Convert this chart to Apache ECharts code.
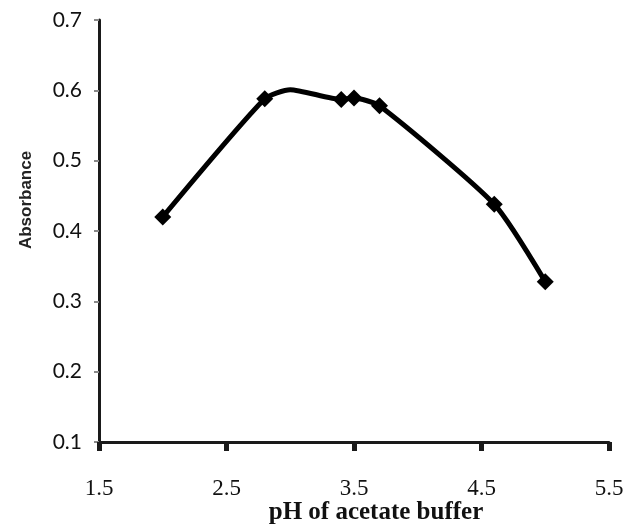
<!DOCTYPE html>
<html>
<head>
<meta charset="utf-8">
<script src="https://cdn.jsdelivr.net/npm/echarts@6/dist/echarts.min.js"></script>
<style>
html,body{margin:0;padding:0;background:#fff;}
#chart{width:630px;height:527px;}
</style>
</head>
<body>
<div id="chart"></div>
<script>
var pH = [2.0, 2.8, 3.0, 3.4, 3.5, 3.7, 4.6, 5.0];
var absorbance = [0.42, 0.588, 0.601, 0.587, 0.589, 0.578, 0.438, 0.328];
var markerShown = [true, true, false, true, true, true, true, true];
var xTicks = [1.5, 2.5, 3.5, 4.5, 5.5];
var yTicks = [0.1, 0.2, 0.3, 0.4, 0.5, 0.6, 0.7];
var xTitle = 'pH of acetate buffer';
var yTitle = 'Absorbance';

var seriesData = pH.map(function (x, i) {
  var d = { value: [x, absorbance[i]] };
  if (!markerShown[i]) d.symbolSize = 0;
  return d;
});

var chart = echarts.init(document.getElementById('chart'));
chart.setOption({
  animation: false,
  backgroundColor: '#ffffff',
  grid: { left: 99, right: 21, top: 20, bottom: 85, containLabel: false, outerBoundsMode: 'none' },
  xAxis: {
    type: 'value',
    min: xTicks[0], max: xTicks[xTicks.length - 1], interval: 1,
    name: xTitle,
    nameLocation: 'middle',
    nameGap: 58,
    nameMoveOverlap: false,
    nameTextStyle: { fontFamily: 'Liberation Serif', fontSize: 25, fontWeight: 'bold', color: '#111', padding: [0, 0, 0, 44] },
    axisLine: { show: true, lineStyle: { color: '#1a1a1a', width: 3 } },
    axisTick: { show: true, length: 9, lineStyle: { color: '#1a1a1a', width: 5 } },
    axisLabel: { margin: 35, fontFamily: 'Liberation Serif', fontSize: 23, color: '#111',
      formatter: function (v) { return v.toFixed(1); } },
    splitLine: { show: false }
  },
  yAxis: {
    type: 'value',
    min: yTicks[0], max: yTicks[yTicks.length - 1], interval: 0.1,
    name: yTitle,
    nameLocation: 'middle',
    nameGap: 64,
    nameMoveOverlap: false,
    nameTextStyle: { fontFamily: 'Liberation Sans', fontSize: 17, fontWeight: 'bold', color: '#222', padding: [0, 0, 0, 62] },
    axisLine: { show: true, lineStyle: { color: '#1a1a1a', width: 3 } },
    axisTick: { show: true, length: 5, lineStyle: { color: '#888', width: 2 } },
    axisLabel: { margin: 17, fontFamily: 'Lato', fontSize: 21, color: '#111',
      formatter: function (v) { return v.toFixed(1); } },
    splitLine: { show: false }
  },
  series: [{
    type: 'line',
    data: seriesData,
    smooth: 0.2,
    symbol: 'diamond',
    symbolSize: 17,
    itemStyle: { color: '#000' },
    lineStyle: { color: '#000', width: 5 }
  }]
});
</script>
</body>
</html>
